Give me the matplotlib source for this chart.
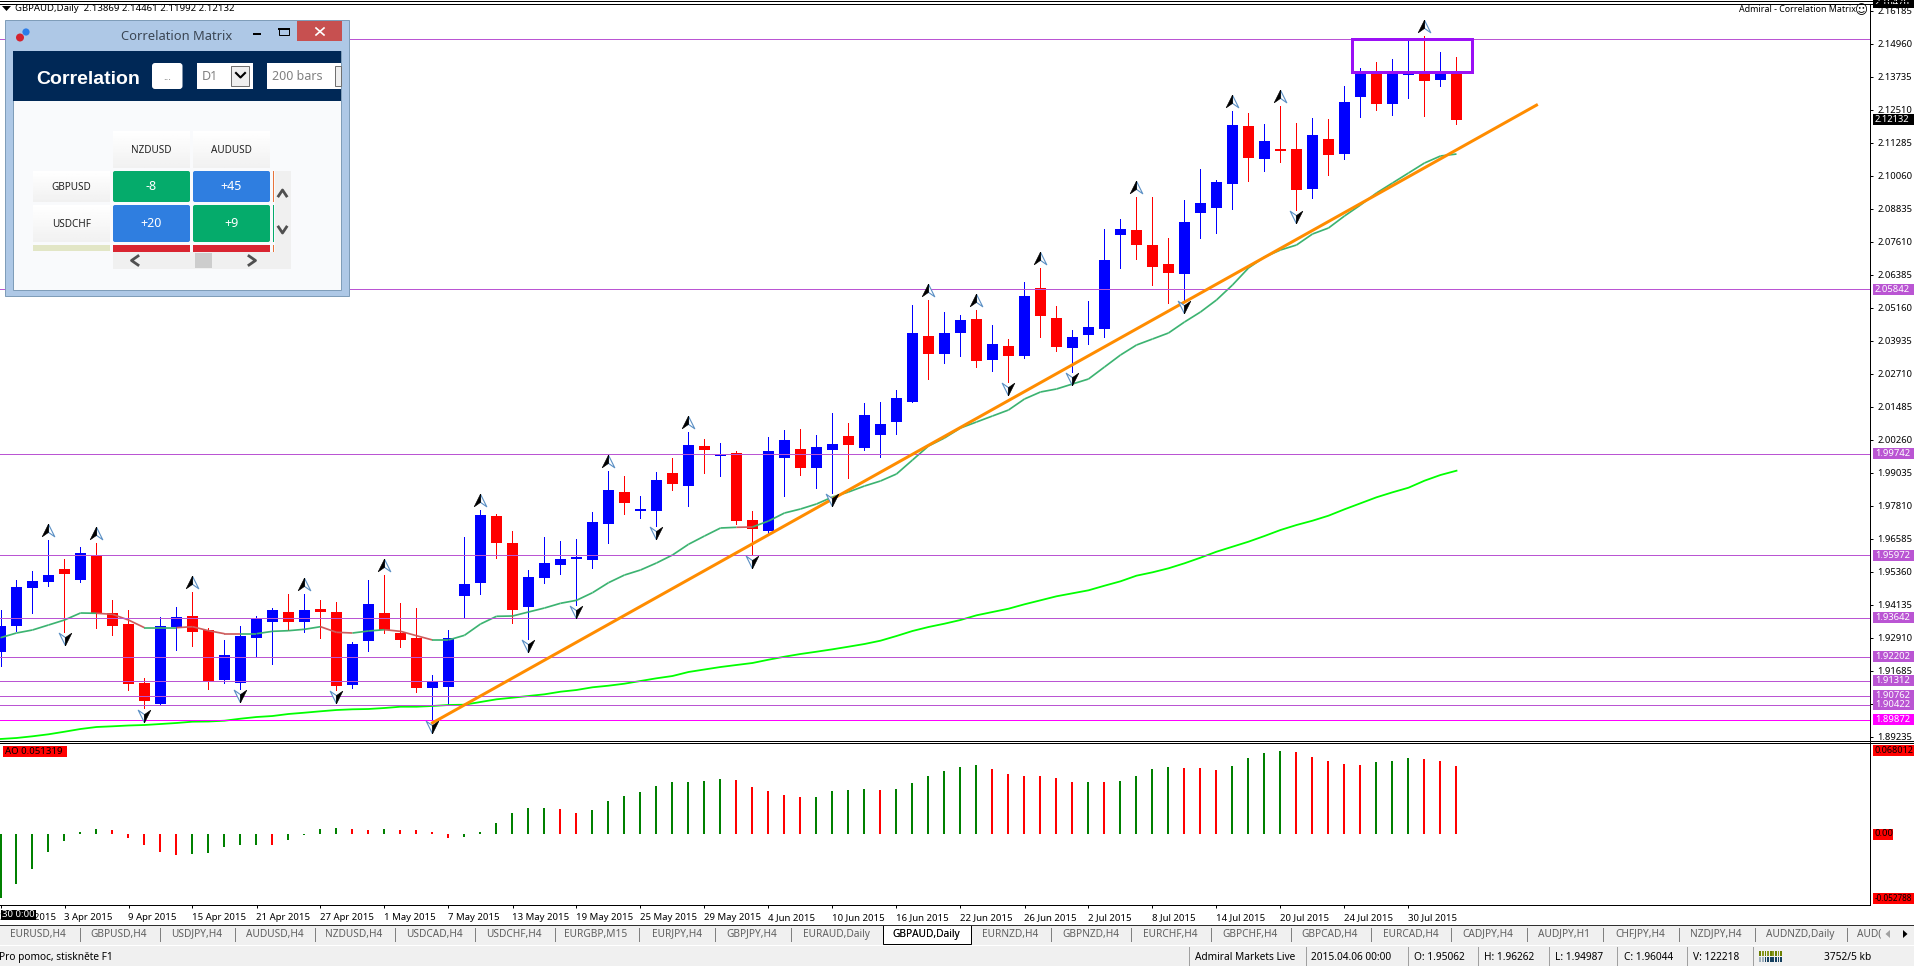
import numpy as np
import matplotlib
matplotlib.use("Agg")
import matplotlib.pyplot as plt
from matplotlib.path import Path
from matplotlib.patches import Rectangle, FancyBboxPatch, Circle, Polygon

plt.rcParams["font.family"] = ["Noto Sans", "DejaVu Sans"]

# daily bars
opens = [
    1.92390, 1.93355, 1.94766, 1.94989, 1.95460, 1.95062, 1.95954, 1.93827, 1.93419, 1.91228,
    1.90449, 1.93296, 1.93715, 1.93196, 1.91340, 1.91240, 1.92899, 1.93493, 1.93864, 1.93493,
    1.93975, 1.93864, 1.91154, 1.92787, 1.93827, 1.93084, 1.92899, 1.91043, 1.91080, 1.94458,
    1.94941, 1.97428, 1.96426, 1.94050, 1.95127, 1.95609, 1.95832, 1.95795, 1.97131, 1.98319,
    1.97614, 1.97614, 1.99024, 1.98542, 2.00026, 1.99655, 1.99767, 1.97280, 1.96871, 1.99581,
    1.99915, 1.99210, 1.99878, 2.00398, 1.99952, 2.00435, 2.00917, 2.01660, 2.04110, 2.03442,
    2.04221, 2.04741, 2.03219, 2.03738, 2.03367, 2.05891, 2.04778, 2.03664, 2.04147, 2.04370,
    2.07859, 2.08044, 2.07488, 2.06782, 2.06411, 2.08675, 2.08861, 2.09752, 2.11905, 2.10680,
    2.11051, 2.11051, 2.09567, 2.11423, 2.10866, 2.12982, 2.13947, 2.12722, 2.13798, 2.13910,
    2.13613, 2.13869,
]
highs = [
    1.93938, 1.95052, 1.95386, 1.96537, 1.95831, 1.96262, 1.96425, 1.94309, 1.93938, 1.91414,
    1.93678, 1.94050, 1.94606, 1.93270, 1.92825, 1.93344, 1.93715, 1.94012, 1.94532, 1.94532,
    1.94309, 1.94235, 1.92750, 1.95052, 1.95237, 1.94198, 1.94012, 1.91525, 1.93196, 1.96648,
    1.97651, 1.97502, 1.96871, 1.95424, 1.96649, 1.96500, 1.96574, 1.97577, 1.99098, 1.98913,
    1.98170, 1.99061, 1.99581, 2.00546, 2.00286, 2.00138, 1.99841, 1.97614, 2.00361, 2.00620,
    2.00658, 2.00435, 2.01251, 2.00880, 2.01623, 2.01660, 2.02105, 2.05260, 2.05446, 2.05001,
    2.04889, 2.05075, 2.04518, 2.03998, 2.06114, 2.06634, 2.05223, 2.04332, 2.05409, 2.08082,
    2.08453, 2.09269, 2.09269, 2.07747, 2.09158, 2.10309, 2.09900, 2.12462, 2.12388, 2.11979,
    2.12647, 2.12016, 2.12202, 2.12165, 2.13390, 2.14058, 2.14281, 2.14392, 2.15097, 2.15246,
    2.14652, 2.14461,
]
lows = [
    1.91859, 1.93159, 1.93827, 1.94829, 1.93122, 1.94987, 1.93270, 1.93010, 1.90969, 1.90300,
    1.90412, 1.92453, 1.92602, 1.91006, 1.91228, 1.91006, 1.92182, 1.91934, 1.93196, 1.93122,
    1.92899, 1.90969, 1.91043, 1.92416, 1.93084, 1.92565, 1.90894, 1.89855, 1.90412, 1.93641,
    1.94533, 1.95869, 1.93456, 1.92862, 1.94941, 1.95275, 1.94124, 1.95498, 1.96426, 1.97502,
    1.97354, 1.97057, 1.98393, 1.97799, 1.99024, 1.98913, 1.97131, 1.95980, 1.96785, 1.98170,
    1.98950, 1.98467, 1.98282, 1.98839, 1.99878, 1.99618, 2.00472, 2.01660, 2.02514, 2.03107,
    2.03367, 2.02959, 2.02810, 2.02402, 2.03293, 2.04073, 2.03553, 2.02773, 2.03813, 2.04073,
    2.06634, 2.06968, 2.06003, 2.05335, 2.05446, 2.07747, 2.07933, 2.08824, 2.09863, 2.10235,
    2.10569, 2.08787, 2.09232, 2.10086, 2.10680, 2.12239, 2.12499, 2.12313, 2.12944, 2.12276,
    2.13390, 2.11992,
]
closes = [
    1.93344, 1.94792, 1.95015, 1.95237, 1.95275, 1.96044, 1.93827, 1.93344, 1.91191, 1.90560,
    1.93344, 1.93678, 1.93122, 1.91290, 1.92268, 1.92973, 1.93615, 1.93938, 1.93493, 1.93938,
    1.93864, 1.91117, 1.92676, 1.94161, 1.93196, 1.92825, 1.91043, 1.91266, 1.92899, 1.94903,
    1.97465, 1.96426, 1.93939, 1.95164, 1.95683, 1.95832, 1.95906, 1.97205, 1.98393, 1.97911,
    1.97688, 1.98764, 1.98616, 2.00064, 1.99878, 1.99704, 1.97242, 1.96946, 1.99841, 2.00249,
    1.99210, 1.99989, 2.00101, 2.00064, 2.01177, 2.00843, 2.01808, 2.04221, 2.03442, 2.04221,
    2.04704, 2.03182, 2.03813, 2.03367, 2.05594, 2.04852, 2.03701, 2.04073, 2.04444, 2.06931,
    2.08082, 2.07488, 2.06671, 2.06448, 2.08341, 2.09047, 2.09826, 2.11942, 2.10717, 2.11348,
    2.10977, 2.09529, 2.11571, 2.10829, 2.12796, 2.13947, 2.12722, 2.13947, 2.13910, 2.13575,
    2.13910, 2.12132,
]

ma_fast = [
    1.92910, 1.93084, 1.93196, 1.93381, 1.93567, 1.93827, 1.93816, 1.93779, 1.93567, 1.93281,
    1.93281, 1.93281, 1.93318, 1.93170, 1.93058, 1.93058, 1.93058, 1.93147, 1.93170, 1.93222,
    1.93318, 1.93110, 1.93084, 1.93159, 1.93207, 1.93147, 1.92984, 1.92825, 1.92825, 1.92999,
    1.93418, 1.93704, 1.93715, 1.93864, 1.94012, 1.94187, 1.94298, 1.94580, 1.94952, 1.95237,
    1.95423, 1.95683, 1.95980, 1.96377, 1.96685, 1.96982, 1.97008, 1.97019, 1.97242, 1.97539,
    1.97687, 1.97873, 1.98133, 1.98318, 1.98541, 1.98727, 1.98987, 1.99506, 2.00026, 2.00323,
    2.00694, 2.00917, 2.01140, 2.01362, 2.01771, 2.02031, 2.02142, 2.02328, 2.02513, 2.02959,
    2.03404, 2.03775, 2.03998, 2.04221, 2.04629, 2.05000, 2.05446, 2.06003, 2.06634, 2.07042,
    2.07302, 2.07487, 2.07896, 2.08118, 2.08564, 2.08972, 2.09418, 2.09789, 2.10160, 2.10531,
    2.10791, 2.10865,
]
# stretches of the fast average that are drawn red
ma_fast_red = [6, 7, 8, 11, 12, 13, 14, 20, 21, 24, 25, 26, 46]

ma_slow = [
    1.89150, 1.89187, 1.89250, 1.89324, 1.89420, 1.89521, 1.89595, 1.89621, 1.89651, 1.89669,
    1.89706, 1.89744, 1.89792, 1.89799, 1.89829, 1.89903, 1.89966, 1.90003, 1.90078, 1.90126,
    1.90178, 1.90226, 1.90252, 1.90263, 1.90300, 1.90348, 1.90348, 1.90375, 1.90412, 1.90423,
    1.90523, 1.90623, 1.90683, 1.90746, 1.90809, 1.90905, 1.90969, 1.91069, 1.91128, 1.91203,
    1.91303, 1.91403, 1.91488, 1.91637, 1.91730, 1.91822, 1.91897, 1.91971, 1.92093, 1.92205,
    1.92305, 1.92390, 1.92479, 1.92576, 1.92676, 1.92799, 1.92973, 1.93159, 1.93307, 1.93430,
    1.93567, 1.93741, 1.93864, 1.93986, 1.94150, 1.94298, 1.94447, 1.94558, 1.94669, 1.94840,
    1.95003, 1.95212, 1.95337, 1.95486, 1.95672, 1.95880, 1.96102, 1.96288, 1.96474, 1.96685,
    1.96908, 1.97093, 1.97253, 1.97439, 1.97676, 1.97899, 1.98122, 1.98307, 1.98478, 1.98738,
    1.98950, 1.99109,
]

ao_values = [
    -0.05279, -0.04095, -0.02867, -0.01474, -0.00573, 0.00164, 0.00410, 0.00328, -0.00328, -0.00901,
    -0.01474, -0.01720, -0.01638, -0.01556, -0.01065, -0.00901, -0.00901, -0.00901, -0.00491, -0.00082,
    0.00410, 0.00491, 0.00410, 0.00328, 0.00410, 0.00328, 0.00328, 0.00164, -0.00328, -0.00246,
    0.00164, 0.00901, 0.01720, 0.02129, 0.02129, 0.02048, 0.01720, 0.01966, 0.02703, 0.03112,
    0.03440, 0.03931, 0.04259, 0.04259, 0.04341, 0.04505, 0.04423, 0.03849, 0.03522, 0.03194,
    0.03030, 0.03030, 0.03522, 0.03604, 0.03686, 0.03604, 0.03686, 0.04177, 0.04750, 0.05160,
    0.05487, 0.05651, 0.05324, 0.04914, 0.04750, 0.04750, 0.04586, 0.04259, 0.04259, 0.04259,
    0.04341, 0.04750, 0.05324, 0.05487, 0.05405, 0.05405, 0.05242, 0.05569, 0.06224, 0.06634,
    0.06801, 0.06716, 0.06306, 0.05979, 0.05733, 0.05651, 0.05897, 0.05979, 0.06224, 0.06143,
    0.05979, 0.05569,
]
ao_colors = list(
    "gggggggrrrrrgggggrggggrrgrrrrggggggrrggggggggg"
    "rrrrrggggrggggggrrrrrrgrggggrrrggggrrrrrgggrrr"
)

fractal_up = [3, 6, 12, 19, 24, 30, 38, 43, 58, 61, 65, 71, 77, 80, 89]
fractal_down = [4, 9, 15, 21, 27, 33, 36, 41, 47, 52, 63, 67, 74, 81]

levels = [2.15123, 2.05842, 1.99742, 1.95972, 1.93642, 1.92202, 1.91312, 1.90762, 1.90422]
level_labels = ["", "2.05842", "1.99742", "1.95972", "1.93642", "1.92202", "1.91312", "1.90762", "1.90422"]
support = 1.89872

trend_x = [27, 96]
trend_y = [1.8975, 2.1268]

box_x = [84.44, 91.94]
box_y = [2.13920, 2.15145]

price_ticks = [
    2.16185, 2.14960, 2.13735, 2.12510, 2.11285, 2.10060, 2.08835, 2.07610, 2.06385, 2.05160,
    2.03935, 2.02710, 2.01485, 2.00260, 1.99035, 1.97810, 1.96585, 1.95360, 1.94135, 1.92910,
    1.91685, 1.90460, 1.89235,
]
date_labels = [
    "30 Mar 2015", "3 Apr 2015", "9 Apr 2015", "15 Apr 2015", "21 Apr 2015", "27 Apr 2015",
    "1 May 2015", "7 May 2015", "13 May 2015", "19 May 2015", "25 May 2015", "29 May 2015",
    "4 Jun 2015", "10 Jun 2015", "16 Jun 2015", "22 Jun 2015", "26 Jun 2015", "2 Jul 2015",
    "8 Jul 2015", "14 Jul 2015", "20 Jul 2015", "24 Jul 2015", "30 Jul 2015",
]

tab_names = [
    "EURUSD,H4", "GBPUSD,H4", "USDJPY,H4", "AUDUSD,H4", "NZDUSD,H4", "USDCAD,H4", "USDCHF,H4",
    "EURGBP,M15", "EURJPY,H4", "GBPJPY,H4", "EURAUD,Daily", "GBPAUD,Daily", "EURNZD,H4",
    "GBPNZD,H4", "EURCHF,H4", "GBPCHF,H4", "GBPCAD,H4", "EURCAD,H4", "CADJPY,H4", "AUDJPY,H1",
    "CHFJPY,H4", "NZDJPY,H4", "AUDNZD,Daily",
]
tab_centers = [
    38, 119, 197, 275, 354, 434.7, 514, 596, 676.7, 752, 836, 925.7, 1010, 1090.6, 1170.6, 1250,
    1330, 1410.5, 1488, 1564, 1640.7, 1716, 1800,
]
tab_seps = [
    79.6, 160, 235.5, 315.5, 395.5, 475.5, 555.5, 639, 715.5, 791.4, 1051.4, 1131.4, 1211.4,
    1291.3, 1371.3, 1451.3, 1527, 1603, 1679, 1755.4, 1847,
]
status_texts = [
    "Admiral Markets Live", "2015.04.06 00:00", "O: 1.95062", "H: 1.96262", "L: 1.94987",
    "C: 1.96044", "V: 122218", "3752/5 kb",
]
status_x = [1195, 1311, 1414, 1484.4, 1555.4, 1623.6, 1693.4, 1824]
status_seps = [1189, 1305.6, 1407.6, 1478, 1549, 1617, 1687, 1753.4]

W, H = 1915, 966
PANEL_R = 1870
PX_PRICE = 0.00037121
PX_AO = 0.000819


def px(n):
    return n * 0.72


def axes_rect(top, bottom):
    return [0, 1 - bottom / H, PANEL_R / W, (bottom - top) / H]


def price_tag(ax, value, text, fc, tc, unit, width=41, size=6.8):
    trans = ax.get_yaxis_transform()
    ax.add_patch(Rectangle((1 + 3 / PANEL_R, value - 5.5 * unit), width / PANEL_R, 11 * unit, fc=fc, ec="none",
                           transform=trans, clip_on=False, zorder=8))
    ax.text(1 + 5 / PANEL_R, value, text, color=tc, fontsize=size, va="center", ha="left",
            transform=trans, clip_on=False, zorder=9)


fig = plt.figure(figsize=(W / 100, H / 100), dpi=100, facecolor="white")

ax = fig.add_axes(axes_rect(4, 741))
xs = np.arange(len(opens))
x_left = -0.5 / 16
x_right = (PANEL_R - 0.5) / 16
ax.set_xlim(x_left, x_right)
ax.set_ylim(2.16582 - 741 * PX_PRICE, 2.16582 - 4 * PX_PRICE)

o = np.array(opens)
c = np.array(closes)
up = c >= o
candle_colors = np.where(up, "#0000ff", "#ff0000")
ax.vlines(xs, lows, highs, colors=candle_colors, lw=px(1), antialiased=False, zorder=2)
ax.bar(xs, np.abs(c - o), bottom=np.minimum(o, c), width=11 / 16, color=candle_colors, lw=0, zorder=2.1)

# fast average, one piece per bar so the colour can change
for i in range(len(ma_fast) - 1):
    col = "#cd5c5c" if i in ma_fast_red else "#3cb371"
    ax.plot(xs[i:i + 2], ma_fast[i:i + 2], color=col, lw=px(1.7), solid_capstyle="butt", zorder=3)
ax.plot(xs, ma_slow, color="#00ff00", lw=px(1.8), zorder=3)

for lev in levels:
    ax.axhline(lev, color="#ba55d3", lw=px(1), antialiased=False, zorder=4)
ax.axhline(support, color="#ff00ff", lw=px(1), antialiased=False, zorder=4)

ax.plot(trend_x, trend_y, color="#ff8c00", lw=px(3), zorder=5)
ax.add_patch(Rectangle((box_x[0], box_y[0]), box_x[1] - box_x[0], box_y[1] - box_y[0], fill=False,
                       ec="#9b10f5", lw=px(3), zorder=5))

# fractal arrows
up_left = Path([(0, 1), (-1, -1), (0, -0.3), (0, 1)])
up_right = Path([(0, 1), (1, -1), (0, -0.3), (0, 1)])
down_left = Path([(0, -1), (-1, 1), (0, 0.3), (0, -1)])
down_right = Path([(0, -1), (1, 1), (0, 0.3), (0, -1)])
arrow_up_y = np.array(highs)[fractal_up] + 10 * PX_PRICE
arrow_down_y = np.array(lows)[fractal_down] - 7.5 * PX_PRICE
ax.plot(fractal_up, arrow_up_y, ls="", marker=up_right, ms=9, mfc="white", mec="#5a8fc4", mew=0.8, zorder=6)
ax.plot(fractal_up, arrow_up_y, ls="", marker=up_left, ms=9, mfc="black", mec="black", mew=0.5, zorder=6)
ax.plot(fractal_down, arrow_down_y, ls="", marker=down_left, ms=9, mfc="white", mec="#5a8fc4", mew=0.8, zorder=6)
ax.plot(fractal_down, arrow_down_y, ls="", marker=down_right, ms=9, mfc="black", mec="black", mew=0.5, zorder=6)

ax.set_xticks([])
ax.yaxis.tick_right()
ax.set_yticks(price_ticks)
ax.set_yticklabels([f"{v:.5f}" for v in price_ticks])
ax.tick_params(axis="y", length=px(3), width=px(1), pad=3, labelsize=6.8, labelcolor="black")
for s in ax.spines.values():
    s.set_visible(False)

for lev, lab in zip(levels, level_labels):
    if lab:
        price_tag(ax, lev, lab, "#ba55d3", "white", PX_PRICE)
price_tag(ax, support, "1.89872", "#ff00ff", "white", PX_PRICE)
price_tag(ax, 2.12132, "2.12132", "black", "white", PX_PRICE)
price_tag(ax, 2.16476, "2.16476", "black", "white", PX_PRICE)

# awesome oscillator panel
ao = fig.add_axes(axes_rect(744, 905))
ao.set_xlim(x_left, x_right)
ao.set_ylim(-(905 - 834) * PX_AO, (834 - 744) * PX_AO)
ao.vlines(xs, 0, ao_values, colors=["#008000" if k == "g" else "#ff0000" for k in ao_colors],
          lw=px(2), antialiased=False)
ao.set_yticks([])
tick_pos = np.arange(len(date_labels)) * 4
ao.set_xticks(tick_pos)
ao.set_xticklabels(date_labels, ha="left")
ao.tick_params(axis="x", length=px(3), width=px(1), pad=3.5, labelsize=6.9)
for s in ao.spines.values():
    s.set_visible(False)
price_tag(ao, 0.068012, "0.068012", "#ff0000", "black", PX_AO, size=6.5)
price_tag(ao, 0.0, "0.00", "#ff0000", "black", PX_AO, width=20)
price_tag(ao, -0.052788, "-0.052788", "#ff0000", "black", PX_AO, size=5.9)

# everything that belongs to the terminal and not to the chart, in pixels
ui = fig.add_axes([0, 0, 1, 1], zorder=10)
ui.patch.set_alpha(0)
ui.set_autoscale_on(False)
ui.set_xlim(0, W)
ui.set_ylim(H, 0)
ui.axis("off")

ui.hlines([0.5, 3.5, 740.5, 742.5, 905], 0, [W, W, W, W, PANEL_R], color="black", lw=px(1), antialiased=False)
ui.vlines(PANEL_R, 3.5, 905, color="black", lw=px(1), antialiased=False)

ui.add_patch(Polygon([(2, 6), (11, 6), (6.5, 11)], fc="black", ec="none"))
ui.text(15, 8.7, "GBPAUD,Daily  2.13869 2.14461 2.11992 2.12132", fontsize=6.9, va="center")
ui.text(1739, 10, "Admiral - Correlation Matrix", fontsize=6.4, va="center")
ui.text(1861.5, 10.5, "\u263a", fontsize=9, va="center", ha="center", family="DejaVu Sans")

ui.add_patch(Rectangle((3, 746), 64, 10.7, fc="#ff0000", ec="none"))
ui.text(5, 751.5, "AO 0.051319", fontsize=6.9, va="center", color="black")
ui.add_patch(Rectangle((1, 910), 35, 9.5, fc="black", ec="none"))
ui.text(2, 914.7, "30 0:00", fontsize=6.9, va="center", color="white")

# tab strip and status bar
ui.add_patch(Rectangle((0, 925), W, 41, fc="#f0f0f0", ec="none"))
ui.hlines(924.5, 0, W, color="#303030", lw=px(1), antialiased=False)
ui.vlines(tab_seps, 928, 941, color="#808080", lw=px(1), antialiased=False)
for name, cx in zip(tab_names, tab_centers):
    ui.text(cx, 934, name, fontsize=7.3, color="#606060", ha="center", va="center")
ui.add_patch(Rectangle((883, 925), 87.6, 19, fc="white", ec="black", lw=px(1)))
ui.text(925.7, 934, "GBPAUD,Daily", fontsize=7.3, color="black", ha="center", va="center")
ui.text(1856.6, 934, "AUD(", fontsize=7.3, color="#606060", va="center",
        clip_path=Rectangle((1850, 925), 29, 19, transform=ui.transData))
ui.add_patch(Rectangle((1879, 926), 36, 18, fc="#f0f0f0", ec="none"))
ui.add_patch(Polygon([(1890, 930), (1890, 938), (1885.5, 934)], fc="#a0a0a0", ec="none"))
ui.add_patch(Polygon([(1903, 930), (1903, 938), (1907.5, 934)], fc="black", ec="none"))

ui.hlines(945, 0, W, color="white", lw=px(1), antialiased=False)
ui.text(-1, 957.3, "Pro pomoc, stiskněte F1", fontsize=7.3, va="center")
ui.vlines(status_seps, 947, 965, color="#a0a0a0", lw=px(1), antialiased=False)
for text, sx in zip(status_texts, status_x):
    ui.text(sx, 957.3, text, fontsize=7.3, va="center")
for k in range(9):
    bx = 1759.5 + k * 2.6
    ui.add_patch(Rectangle((bx, 957), 1.7, 5, fc="#16405f" if k > 1 else "#9fb0bd", ec="none"))
    ui.add_patch(Rectangle((bx, 951), 1.7, 5, fc="#6b7f00" if k % 2 == 0 else "#8a9a20", ec="none"))

# correlation window
ui.add_patch(Rectangle((5, 20), 344, 276, fc="#aec8e6", ec="#7f9db9", lw=px(1)))
ui.add_patch(Rectangle((12.7, 50.5), 328.5, 239, fc="#f9fafc", ec="#7f9db9", lw=px(1)))
ui.add_patch(Rectangle((13, 51), 328, 50, fc="#002856", ec="none"))
ui.add_patch(Rectangle((297, 21), 45, 20, fc="#c75050", ec="none"))
ui.plot([316, 324], [28, 35], color="white", lw=1.2)
ui.plot([316, 324], [35, 28], color="white", lw=1.2)
ui.add_patch(Circle((26, 32), 3.6, fc="#2b7de9", ec="none"))
ui.add_patch(Circle((20, 37.5), 4, fc="#d4232f", ec="none"))
ui.text(177, 36, "Correlation Matrix", fontsize=9.3, color="#3b4654", ha="center", va="center")
ui.add_patch(Rectangle((253, 32.5), 8, 2, fc="black", ec="none"))
ui.add_patch(Rectangle((279.5, 28), 9.5, 6.5, fc="none", ec="black", lw=px(1)))
ui.plot([279.5, 289], [28.5, 28.5], color="black", lw=px(2))

ui.text(36.5, 79, "Correlation", fontsize=14, fontweight="bold", family="Liberation Sans", color="white", va="center")
ui.add_patch(FancyBboxPatch((152, 63), 30.5, 26, boxstyle="round,pad=0,rounding_size=3", fc="white", ec="none"))
ui.text(167, 78, "...", fontsize=7, color="#606060", ha="center", va="center")
ui.add_patch(Rectangle((197, 63), 56, 26, fc="white", ec="none"))
ui.text(202, 76.5, "D1", fontsize=9, color="#808080", va="center")
ui.add_patch(Rectangle((231.5, 66), 18, 19.5, fc="#efefef", ec="#707070", lw=px(1)))
ui.plot([236, 240.5, 245], [73, 77.5, 73], color="black", lw=1.5)
ui.add_patch(Rectangle((267, 63), 74, 26, fc="white", ec="none"))
ui.text(272, 76.5, "200 bars", fontsize=9, color="#808080", va="center")
ui.add_patch(Rectangle((335.5, 66), 5.5, 19.5, fc="#efefef", ec="#707070", lw=px(1)))


def header_cell(x0, y0, x1, y1, label):
    grad = np.linspace(1, 0.945, 24).reshape(-1, 1)
    ui.imshow(grad, cmap="gray", vmin=0, vmax=1, extent=(x0, x1, y1, y0), aspect="auto", zorder=3)
    ui.text((x0 + x1) / 2, y0 + (y1 - y0) * 0.5 + 1, label, fontsize=7.2, color="#222222",
            ha="center", va="center", zorder=4)


def value_cell(x0, y0, x1, y1, label, color):
    ui.add_patch(FancyBboxPatch((x0, y0), x1 - x0, y1 - y0, boxstyle="round,pad=0,rounding_size=2",
                                fc=color, ec="none", zorder=3))
    ui.text((x0 + x1) / 2, (y0 + y1) / 2, label, fontsize=9, color="white", ha="center", va="center", zorder=4)


header_cell(113, 131, 190, 168, "NZDUSD")
header_cell(193, 131, 270, 168, "AUDUSD")
header_cell(33, 171, 110, 202, "GBPUSD")
header_cell(33, 205, 110, 242, "USDCHF")
ui.add_patch(Rectangle((33, 245), 77, 6, fc="#e2e6c6", ec="none", zorder=3))
value_cell(113, 171, 190, 202, "-8", "#05ab6b")
value_cell(193, 171, 270, 202, "+45", "#2f7ee0")
value_cell(113, 205, 190, 242, "+20", "#2f7ee0")
value_cell(193, 205, 270, 242, "+9", "#05ab6b")
ui.add_patch(Rectangle((113, 245), 77, 7, fc="#d92531", ec="none", zorder=3))
ui.add_patch(Rectangle((193, 245), 77, 7, fc="#d92531", ec="none", zorder=3))
ui.add_patch(Rectangle((273, 171), 1, 31, fc="#e8743b", ec="none", zorder=3))
ui.add_patch(Rectangle((273, 205), 1, 37, fc="#05ab6b", ec="none", zorder=3))
ui.add_patch(Rectangle((273, 245), 1, 7, fc="#e8743b", ec="none", zorder=3))
ui.add_patch(Rectangle((275, 171), 16, 98, fc="#f0f0f0", ec="none", zorder=3))
ui.add_patch(Rectangle((113, 252), 178, 17, fc="#f0f0f0", ec="none", zorder=3))
ui.add_patch(Rectangle((195, 253), 17, 15, fc="#cdcdcd", ec="none", zorder=4))
ui.plot([278.5, 282.5, 286.5], [196, 190, 196], color="#505050", lw=2, zorder=4)
ui.plot([278.5, 282.5, 286.5], [227, 233, 227], color="#505050", lw=2, zorder=4)
ui.plot([138, 131.5, 138], [256, 260.5, 265], color="#505050", lw=2, zorder=4)
ui.plot([249, 255.5, 249], [256, 260.5, 265], color="#505050", lw=2, zorder=4)

ui.set_xlim(0, W)
ui.set_ylim(H, 0)

fig.savefig("out.png", dpi=100)
plt.close(fig)
